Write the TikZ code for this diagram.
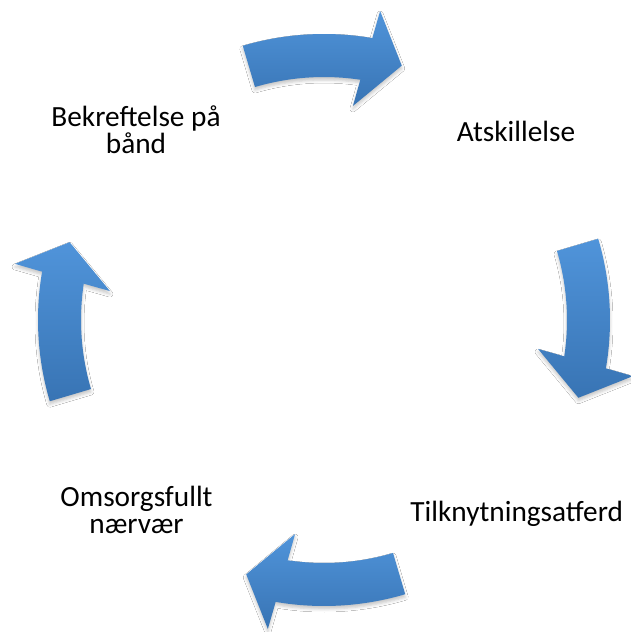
\documentclass[tikz,border=0pt]{standalone}
\usepackage{fontspec}
\setmainfont{Carlito}
\usetikzlibrary{shadows.blur}

\definecolor{arrowtop}{RGB}{80,148,218}
\definecolor{arrowbot}{RGB}{56,116,180}

\tikzset{
  % curved block arrow segment of the cycle; #1 = axis angle of the segment
  cyclearrow/.style={top color=arrowtop, bottom color=arrowbot, draw=none,
    blur shadow={shadow xshift=0pt, shadow yshift=-3pt,
                 shadow blur radius=3pt, shadow opacity=22}},
  pics/turnarrow/.style={code={
    \path[cyclearrow]
      ({#1+16.5}:286) arc[start angle={#1+16.5}, end angle={#1-9.73}, radius=286]
      -- ({#1-10.3}:314) -- ({#1-17}:266) -- ({#1-7.7}:216) -- ({#1-8.6}:243)
      arc[start angle={#1-8.6}, end angle={#1+16.5}, radius=243] -- cycle;
  }},
  % labels are anchored at the baseline of their last line
  stagelabel/.style={font=\fontsize{29.3}{26.7}\selectfont, align=center,
    inner sep=0pt, anchor=base, text=black}
}

\begin{document}
\begin{tikzpicture}[x=1pt, y=1pt]
  \fill[white] (0,0) rectangle (631,-632);
  \useasboundingbox (0,0) rectangle (631,-632);

  \coordinate (hub) at (324,-320);

  % four arrows running clockwise round the hub
  \pic (arrowTop)    at (hub) {turnarrow=90};
  \pic (arrowRight)  at (hub) {turnarrow=0};
  \pic (arrowBottom) at (hub) {turnarrow=-90};
  \pic (arrowLeft)   at (hub) {turnarrow=180};

  % stage labels
  \node[stagelabel] (sep) at (516,-141)     {Atskillelse};
  \node[stagelabel] (att) at (516.7,-521)   {Tilknytningsatferd};
  \node[stagelabel] (bek) at (136,-153.3)   {Bekreftelse på\\bånd};
  \node[stagelabel] (oms) at (136.5,-533.3) {Omsorgsfullt\\nærvær};
\end{tikzpicture}
\end{document}
